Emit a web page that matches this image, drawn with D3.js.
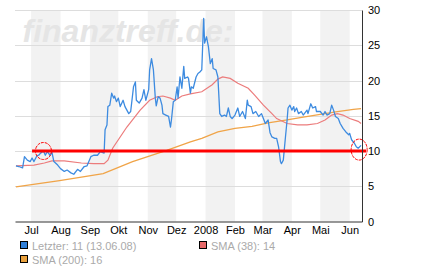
<!DOCTYPE html>
<html>
<head>
<meta charset="utf-8">
<script src="https://cdn.jsdelivr.net/npm/d3@7"></script>
<style>
  body { margin: 0; background: #fff; }
  svg { display: block; font-family: "Liberation Sans", Arial, sans-serif; }
</style>
</head>
<body>
<div id="chart"></div>
<script>
// Kursverlauf (Letzter)
var letzter = [
  ["2007-06-15",7.9],["2007-06-18",7.8],["2007-06-22",7.6],["2007-06-24",9.2],["2007-06-27",8.7],["2007-06-30",8.5],
  ["2007-07-02",9.0],["2007-07-04",8.5],["2007-07-07",9.3],["2007-07-09",9.4],["2007-07-11",9.7],["2007-07-14",10.0],
  ["2007-07-16",9.4],["2007-07-18",9.9],["2007-07-21",9.4],["2007-07-23",9.8],["2007-07-25",8.5],["2007-07-29",8.0],
  ["2007-08-01",7.5],["2007-08-05",7.1],["2007-08-08",7.3],["2007-08-12",6.9],["2007-08-15",6.7],["2007-08-19",7.4],
  ["2007-08-22",7.1],["2007-08-26",7.8],["2007-08-29",7.9],["2007-09-02",9.2],["2007-09-05",9.4],["2007-09-09",9.4],
  ["2007-09-12",9.9],["2007-09-16",9.7],["2007-09-17",13.0],["2007-09-19",13.7],["2007-09-20",16.3],["2007-09-22",16.5],
  ["2007-09-24",18.2],["2007-09-26",17.5],["2007-09-27",17.8],["2007-09-29",17.0],["2007-10-01",17.5],["2007-10-03",16.3],
  ["2007-10-06",17.2],["2007-10-08",16.3],["2007-10-12",15.3],["2007-10-14",15.6],["2007-10-17",19.1],["2007-10-19",19.8],
  ["2007-10-20",17.2],["2007-10-23",16.8],["2007-10-26",17.5],["2007-10-28",18.7],["2007-10-30",17.2],["2007-11-02",18.7],
  ["2007-11-03",21.5],["2007-11-05",23.1],["2007-11-07",21.5],["2007-11-09",17.5],["2007-11-10",16.4],["2007-11-12",17.7],
  ["2007-11-14",17.5],["2007-11-16",16.5],["2007-11-17",15.3],["2007-11-20",15.1],["2007-11-23",14.9],["2007-11-25",13.4],
  ["2007-11-26",14.4],["2007-11-28",17.0],["2007-11-30",17.2],["2007-12-02",19.1],["2007-12-03",17.5],["2007-12-05",20.5],
  ["2007-12-07",18.9],["2007-12-09",22.0],["2007-12-10",20.3],["2007-12-13",20.5],["2007-12-14",20.3],["2007-12-16",18.2],
  ["2007-12-17",19.1],["2007-12-19",18.9],["2007-12-22",20.5],["2007-12-24",21.0],["2007-12-26",21.2],["2007-12-28",21.5],
  ["2007-12-30",28.8],["2007-12-31",25.3],["2008-01-02",26.2],["2008-01-04",24.8],["2008-01-06",22.4],["2008-01-08",23.1],
  ["2008-01-09",21.7],["2008-01-12",21.5],["2008-01-14",20.5],["2008-01-16",15.3],["2008-01-18",14.9],["2008-01-21",15.1],
  ["2008-01-23",14.9],["2008-01-25",16.1],["2008-01-27",14.9],["2008-01-29",14.6],["2008-02-01",15.1],["2008-02-04",16.1],
  ["2008-02-06",14.9],["2008-02-09",15.6],["2008-02-12",14.6],["2008-02-14",17.2],["2008-02-15",16.5],["2008-02-18",16.3],
  ["2008-02-20",15.3],["2008-02-23",15.6],["2008-02-26",14.9],["2008-02-29",15.3],["2008-03-02",14.6],["2008-03-04",13.9],
  ["2008-03-07",14.4],["2008-03-09",12.6],["2008-03-11",12.0],["2008-03-14",11.8],["2008-03-16",11.8],["2008-03-18",10.6],
  ["2008-03-20",8.5],["2008-03-21",8.2],["2008-03-23",8.7],["2008-03-25",11.6],["2008-03-27",14.4],["2008-03-28",16.1],
  ["2008-03-30",16.5],["2008-04-01",15.8],["2008-04-03",16.3],["2008-04-04",15.6],["2008-04-06",16.1],["2008-04-08",15.3],
  ["2008-04-11",15.6],["2008-04-13",15.1],["2008-04-17",15.8],["2008-04-18",15.3],["2008-04-21",16.7],["2008-04-23",16.1],
  ["2008-04-26",16.3],["2008-04-27",15.6],["2008-05-01",15.6],["2008-05-04",15.1],["2008-05-06",15.6],["2008-05-08",15.1],
  ["2008-05-11",15.3],["2008-05-13",16.5],["2008-05-15",15.8],["2008-05-17",14.9],["2008-05-20",14.6],["2008-05-22",13.9],
  ["2008-05-25",13.2],["2008-05-28",12.7],["2008-05-31",12.3],["2008-06-01",12.5],["2008-06-03",11.6],["2008-06-06",11.1],
  ["2008-06-08",10.6],["2008-06-10",10.4],["2008-06-13",10.8]
];

// SMA (38)
var sma38 = [
  ["2007-06-15",7.9],["2007-07-04",8.0],["2007-07-15",8.3],["2007-07-23",8.6],["2007-08-05",8.6],["2007-08-23",8.3],
  ["2007-09-05",8.2],["2007-09-16",8.2],["2007-09-20",8.7],["2007-09-25",10.4],["2007-10-10",13.4],["2007-10-24",15.8],
  ["2007-11-03",17.2],["2007-11-11",17.7],["2007-11-17",17.8],["2007-11-25",17.5],["2007-11-30",17.2],["2007-12-07",17.8],
  ["2007-12-16",18.1],["2007-12-28",18.4],["2008-01-08",19.4],["2008-01-14",20.2],["2008-01-19",20.5],["2008-01-27",20.3],
  ["2008-02-04",19.6],["2008-02-15",18.9],["2008-02-22",17.9],["2008-03-02",16.5],["2008-03-11",15.3],["2008-03-16",14.6],
  ["2008-03-27",13.9],["2008-04-07",13.7],["2008-04-17",13.7],["2008-04-28",13.9],["2008-05-06",14.4],["2008-05-13",15.1],
  ["2008-05-19",15.3],["2008-05-25",15.1],["2008-06-01",14.6],["2008-06-10",14.2],["2008-06-13",13.9]
];

// SMA (200)
var sma200 = [
  ["2007-06-15",4.9],["2007-07-31",5.8],["2007-09-15",6.8],["2007-10-16",8.5],["2007-11-21",10.1],["2007-12-16",11.3],
  ["2007-12-28",11.8],["2008-01-14",12.7],["2008-02-01",13.2],["2008-02-19",13.5],["2008-03-07",14.0],["2008-03-27",14.4],
  ["2008-04-13",14.8],["2008-05-01",15.2],["2008-05-19",15.6],["2008-06-05",15.9],["2008-06-13",16.0]
];

var yTicks = [0, 5, 10, 15, 20, 25, 30];
var monthLabels = ["Jul", "Aug", "Sep", "Okt", "Nov", "Dez", "2008", "Feb", "Mar", "Apr", "Mai", "Jun"];
var shadedMonths = ["2007-07-01", "2007-09-01", "2007-11-01", "2008-01-01", "2008-03-01", "2008-05-01"];
var dateRange = ["2007-06-14", "2008-06-14"];

// Unterstuetzungslinie + Markierungen
var levelValue = 10;
var levelStart = "2007-07-02";
var markers = [["2007-07-14", 10.0, 8, 8.5], ["2008-06-11", 10.2, 8, 10.5]];

var legendItems = [
  { label: "Letzter: 11 (13.06.08)", color: "#2f7fd9" },
  { label: "SMA (38): 14", color: "#e86a6a" },
  { label: "SMA (200): 16", color: "#e8a03c" }
];

var parse = d3.timeParse("%Y-%m-%d");

var w = 422, h = 280;
var margin = { top: 10, right: 60, bottom: 58.5, left: 15 };
var width = w - margin.left - margin.right,
    height = h - margin.top - margin.bottom;

var svg = d3.select("#chart").append("svg")
    .attr("width", w)
    .attr("height", h);

var g = svg.append("g")
    .attr("transform", "translate(" + margin.left + "," + margin.top + ")");

var x = d3.scaleTime().domain(dateRange.map(parse)).range([0, width]);
var y = d3.scaleLinear().domain([0, 30]).range([height, 0]);

// month bands
g.selectAll("rect.band")
    .data(shadedMonths.map(parse))
    .enter().append("rect")
    .attr("class", "band")
    .attr("x", function(d) { return x(d); })
    .attr("y", 0)
    .attr("width", function(d) { return x(d3.timeMonth.offset(d, 1)) - x(d); })
    .attr("height", height)
    .attr("fill", "#f2f2f2");

// grid
g.selectAll("line.grid")
    .data(yTicks.filter(function(t) { return t > 0; }))
    .enter().append("line")
    .attr("x1", 0).attr("x2", width)
    .attr("y1", function(d) { return Math.round(y(d)) + 0.5; })
    .attr("y2", function(d) { return Math.round(y(d)) + 0.5; })
    .attr("stroke", "#dddddd");

// watermark
g.append("text")
    .attr("x", 7.5)
    .attr("y", 32)
    .attr("font-size", 32)
    .attr("font-weight", "bold")
    .attr("font-style", "italic")
    .attr("fill", "#e5e5e5")
    .text("finanztreff.de:");

var line = d3.line()
    .x(function(d) { return x(parse(d[0])); })
    .y(function(d) { return y(d[1]); });

g.append("path").datum(sma200)
    .attr("fill", "none").attr("stroke", "#f0a448").attr("stroke-width", 1.3)
    .attr("d", line);

g.append("path").datum(sma38)
    .attr("fill", "none").attr("stroke", "#ec7c7c").attr("stroke-width", 1.2)
    .attr("d", line);

g.append("path").datum(letzter)
    .attr("fill", "none").attr("stroke", "#3d8be0").attr("stroke-width", 1.3)
    .attr("stroke-linejoin", "round")
    .attr("d", line);

// level line
g.append("line")
    .attr("x1", x(parse(levelStart)))
    .attr("x2", width + 4)
    .attr("y1", y(levelValue))
    .attr("y2", y(levelValue))
    .attr("stroke", "#ff0000")
    .attr("stroke-width", 3);

g.selectAll("ellipse.mark")
    .data(markers)
    .enter().append("ellipse")
    .attr("cx", function(d) { return x(parse(d[0])); })
    .attr("cy", function(d) { return y(d[1]); })
    .attr("rx", function(d) { return d[2]; })
    .attr("ry", function(d) { return d[3]; })
    .attr("fill", "none")
    .attr("stroke", "#ff0000")
    .attr("stroke-width", 1)
    .attr("stroke-dasharray", "3,1");

// axes
var yAxis = d3.axisRight(y).tickValues(yTicks).tickSize(0).tickPadding(6);
var xAxis = d3.axisBottom(x)
    .tickValues(d3.timeMonth.range(parse("2007-07-01"), x.domain()[1]))
    .tickSize(0).tickPadding(5)
    .tickFormat(function(d, i) { return monthLabels[i]; });

var ya = g.append("g").attr("transform", "translate(" + width + ",0)").call(yAxis);
var xa = g.append("g").attr("transform", "translate(0," + height + ")").call(xAxis);

[ya, xa].forEach(function(a) {
    a.select(".domain").attr("stroke", "#333");
    a.selectAll("text").attr("font-size", 11).attr("fill", "#000")
        .attr("font-family", "Liberation Sans, Arial, sans-serif");
});

// legend
var legend = svg.append("g");
var legendPos = [[20.5, 241.5], [199.5, 241.5], [20.5, 255.5]];
legendItems.forEach(function(item, i) {
    var p = legendPos[i];
    legend.append("rect")
        .attr("x", p[0]).attr("y", p[1])
        .attr("width", 7).attr("height", 7)
        .attr("fill", item.color)
        .attr("stroke", "#000").attr("stroke-width", 1);
    legend.append("text")
        .attr("x", p[0] + 11.5).attr("y", p[1] + 8)
        .attr("font-size", 11)
        .attr("fill", "#aaaaaa")
        .text(item.label);
});
</script>
</body>
</html>
